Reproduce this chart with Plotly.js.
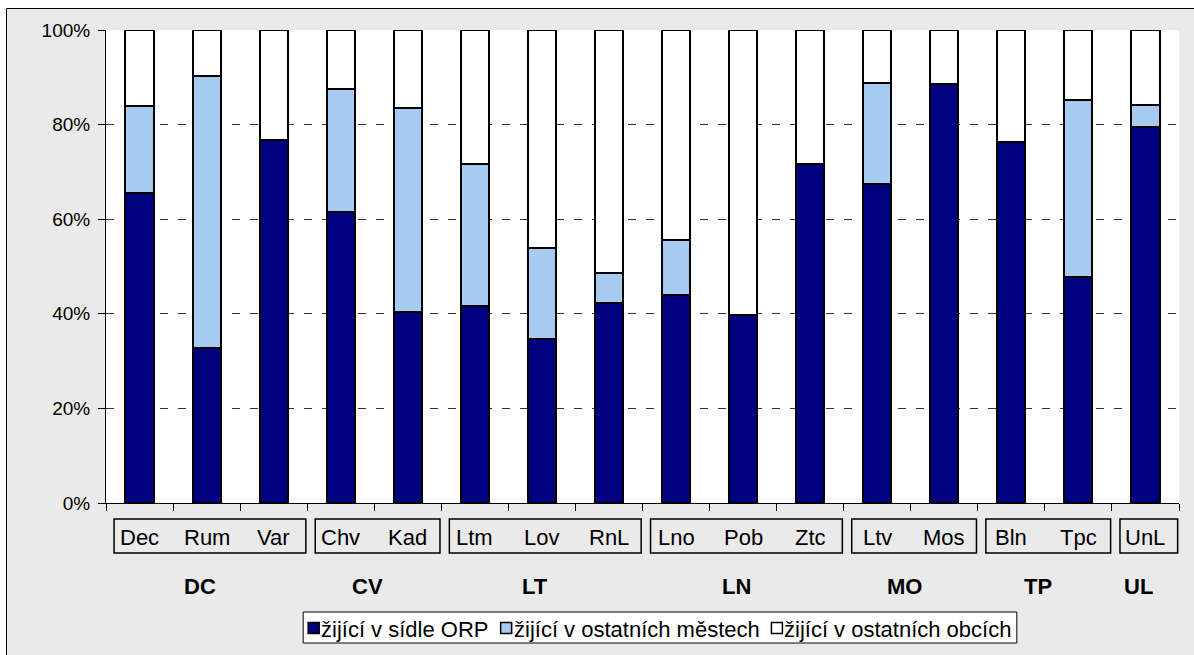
<!DOCTYPE html>
<html><head><meta charset="utf-8">
<script src="https://cdn.plot.ly/plotly-3.0.1.min.js"></script>
<style>html,body{margin:0;padding:0;background:#fff;} #chart{width:1194px;height:655px;}</style>
</head><body><div id="chart"></div>
<script>
// ---- data ----
const categories = ['Dec','Rum','Var','Chv','Kad','Ltm','Lov','RnL','Lno','Pob','Ztc','Ltv','Mos','Bln','Tpc','UnL'];
const groupNames = ['DC','CV','LT','LN','MO','TP','UL'];
const groupSizes = [3,2,3,3,2,2,1];
const seriesNames = ['žijící v sídle ORP','žijící v ostatních městech','žijící v ostatních obcích'];
const orpShare     = [65.5,32.8,76.7,61.6,40.4,41.6,34.6,42.2,43.9,39.8,71.7,67.4,88.5,76.3,47.7,79.4];
const townShare    = [18.5,57.5, 0.0,25.9,43.1,30.1,19.4, 6.5,11.8, 0.0, 0.0,21.5, 0.0, 0.0,37.6, 4.7];
const villageShare = [16.0, 9.7,23.3,12.5,16.5,28.3,46.0,51.3,44.3,60.2,28.3,11.1,11.5,23.7,14.7,15.9];
const yTickVals = [0,20,40,60,80,100];

// ---- style ----
const colors = ['#000080','#a6caf0','#ffffff'];
const FONT = 'Liberation Sans, Arial, sans-serif';
const L = 106, R = 1179, T = 30, B = 503;
const fx = x => (x - L) / (R - L);
const fy = y => (B - y) / (B - T);

const seriesVals = [orpShare, townShare, villageShare];
const traces = seriesVals.map((vals, k) => ({
  type: 'bar', x: categories, y: vals, name: seriesNames[k],
  width: 0.42,
  marker: {color: colors[k], line: {color: '#000', width: 2}},
  hoverinfo: 'x+y+name'
}));

const shapes = [];
const annotations = [];

// category labels
categories.forEach(c => annotations.push({
  x: c, xref: 'x', y: fy(537), yref: 'paper', text: c, showarrow: false,
  xanchor: 'center', yanchor: 'middle', font: {family: FONT, size: 22, color: '#000'}
}));

// group boxes + labels
let start = 0;
groupSizes.forEach((n, g) => {
  const end = start + n - 1;
  shapes.push({type: 'rect', xref: 'x', yref: 'paper',
    x0: start - 0.5 + 0.12, x1: end + 0.5 - 0.02, y0: fy(553), y1: fy(519),
    line: {color: '#000', width: 1.5}, fillcolor: 'rgba(0,0,0,0)'});
  annotations.push({x: (start + end) / 2 - 0.1, xref: 'x', y: fy(586), yref: 'paper',
    text: '<b>' + groupNames[g] + '</b>', showarrow: false, xanchor: 'center', yanchor: 'middle',
    font: {family: FONT, size: 22, color: '#000'}});
  start = end + 1;
});

// legend (manual, laid out with measured text widths)
const LEG_FONT = 22;
const ctx = document.createElement('canvas').getContext('2d');
ctx.font = LEG_FONT + 'px "Liberation Sans"';
const mk = 11, gapAfterMk = 2, gapItems = 12, pad = 5;
const widths = seriesNames.map(s => ctx.measureText(s).width);
const total = pad * 2 + widths.reduce((a, b) => a + b, 0) + seriesNames.length * (mk + gapAfterMk) + gapItems * (seriesNames.length - 1);
const legCx = 660, legTop = 612, legBot = 643, legMid = 628;
let lx = legCx - total / 2;
shapes.push({type: 'rect', xref: 'paper', yref: 'paper', x0: fx(lx), x1: fx(lx + total), y0: fy(legBot), y1: fy(legTop),
  line: {color: '#000', width: 1}, fillcolor: '#fff'});
let cx = lx + pad;
seriesNames.forEach((s, k) => {
  shapes.push({type: 'rect', xref: 'paper', yref: 'paper', x0: fx(cx), x1: fx(cx + mk), y0: fy(legMid + mk / 2), y1: fy(legMid - mk / 2),
    line: {color: '#000', width: 1.5}, fillcolor: colors[k]});
  cx += mk + gapAfterMk;
  annotations.push({x: fx(cx), xref: 'paper', y: fy(legMid + 1), yref: 'paper', text: s, showarrow: false,
    xanchor: 'left', yanchor: 'middle', xshift: -2, font: {family: FONT, size: LEG_FONT, color: '#000'}});
  cx += widths[k] + gapItems;
});

// outer border (white outside, black line)
shapes.push({type: 'rect', xref: 'paper', yref: 'paper', x0: fx(-10), x1: fx(1210), y0: fy(8.5), y1: fy(-10), line: {width: 0}, fillcolor: '#fff'});
shapes.push({type: 'rect', xref: 'paper', yref: 'paper', x0: fx(-10), x1: fx(6.5), y0: fy(670), y1: fy(-10), line: {width: 0}, fillcolor: '#fff'});
shapes.push({type: 'line', xref: 'paper', yref: 'paper', x0: fx(6.5), x1: fx(1210), y0: fy(8.5), y1: fy(8.5), line: {color: '#000', width: 1}});
shapes.push({type: 'line', xref: 'paper', yref: 'paper', x0: fx(6.5), x1: fx(6.5), y0: fy(8.5), y1: fy(670), line: {color: '#000', width: 1}});

const layout = {
  width: 1194, height: 655,
  margin: {l: L, r: 1194 - R, t: T, b: 655 - B, pad: 0},
  paper_bgcolor: '#eaeaea', plot_bgcolor: '#ffffff',
  barmode: 'stack', showlegend: false,
  font: {family: FONT, color: '#000'},
  xaxis: {type: 'category', range: [-0.5, categories.length - 0.5], tickson: 'boundaries',
    ticks: 'outside', ticklen: 7, tickcolor: '#000', tickwidth: 1, showticklabels: false,
    showline: true, linecolor: '#000', linewidth: 1, showgrid: false, zeroline: false, fixedrange: true},
  yaxis: {range: [0, 100], tickvals: yTickVals, ticktext: yTickVals.map(v => v + '%'),
    ticks: 'outside', ticklen: 7, tickcolor: '#000', tickwidth: 1,
    showline: true, linecolor: '#000', linewidth: 1,
    showgrid: true, gridcolor: '#333', griddash: '8px,10px', gridwidth: 1, zeroline: false,
    tickfont: {family: FONT, size: 19, color: '#000'}, ticklabelstandoff: 4, fixedrange: true},
  shapes: shapes, annotations: annotations
};

Plotly.newPlot('chart', traces, layout, {displayModeBar: false, staticPlot: true});
</script>
</body></html>
